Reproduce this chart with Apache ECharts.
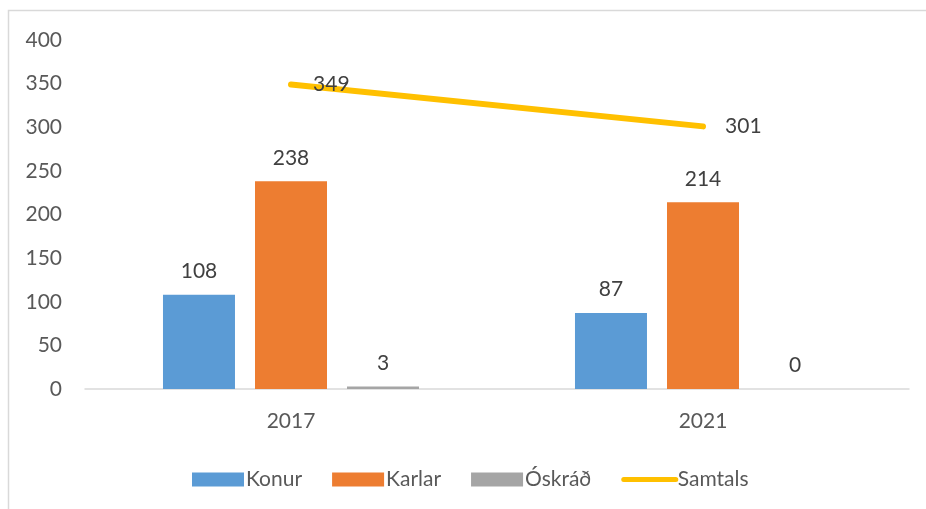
<!DOCTYPE html>
<html>
<head>
<meta charset="utf-8">
<script src="https://cdn.jsdelivr.net/npm/echarts@6/dist/echarts.min.js"></script>
<style>
  html, body { margin: 0; padding: 0; background: #fff; }
  #chart { width: 926px; height: 509px; }
</style>
</head>
<body>
<div id="chart"></div>
<script>
const years = ['2017', '2021']
const konur = [108, 87]
const karlar = [238, 214]
const oskrad = [3, 0]
const samtals = [349, 301]

const font = 'Lato, "Open Sans", sans-serif'
const chart = echarts.init(document.getElementById('chart'))

const barLabel = {
  show: true,
  position: 'top',
  distance: 13,
  color: '#404040',
  fontSize: 21,
  fontFamily: font,
}

chart.setOption({
  animation: false,
  backgroundColor: '#fff',
  textStyle: { fontFamily: font },
  graphic: [{
    type: 'rect',
    silent: true,
    shape: { x: 8.5, y: 10.5, width: 1000, height: 1000 },
    style: { fill: 'none', stroke: '#D9D9D9', lineWidth: 1.5 },
  }],
  grid: { left: 85, right: 17, top: 40, bottom: 120 },
  legend: {
    left: 187,
    top: 464,
    itemWidth: 52,
    itemHeight: 14,
    itemGap: 30,
    textStyle: { color: '#595959', fontSize: 21, fontFamily: font, padding: [0, 0, 0, -3] },
    data: [
      { name: 'Konur', icon: 'rect' },
      { name: 'Karlar', icon: 'rect' },
      { name: 'Óskráð', icon: 'rect' },
      { name: 'Samtals', itemStyle: { opacity: 0 }, lineStyle: { width: 5, cap: 'round' } },
    ],
  },
  xAxis: {
    type: 'category',
    data: years,
    axisLine: { lineStyle: { color: '#D9D9D9', width: 1.5 } },
    axisTick: { show: false },
    axisLabel: { color: '#595959', fontSize: 21, margin: 22, fontFamily: font },
  },
  yAxis: {
    type: 'value',
    min: 0,
    max: 400,
    interval: 50,
    splitLine: { show: false },
    axisLine: { show: false },
    axisTick: { show: false },
    axisLabel: { color: '#595959', fontSize: 21, margin: 23, fontFamily: font },
  },
  series: [
    {
      name: 'Konur', type: 'bar', data: konur, barWidth: 72, barGap: '27.8%',
      itemStyle: { color: '#5B9BD5' }, label: barLabel,
    },
    {
      name: 'Karlar', type: 'bar', data: karlar, barWidth: 72, barGap: '27.8%',
      itemStyle: { color: '#ED7D31' }, label: barLabel,
    },
    {
      name: 'Óskráð', type: 'bar', data: oskrad, barWidth: 72, barGap: '27.8%',
      itemStyle: { color: '#A5A5A5' }, label: barLabel,
    },
    {
      name: 'Samtals', type: 'line', data: samtals,
      showSymbol: true, symbol: 'circle', symbolSize: 0.1,
      lineStyle: { color: '#FFC000', width: 6, cap: 'round' },
      itemStyle: { color: '#FFC000' },
      label: {
        show: true, position: 'right', distance: 22,
        color: '#404040', fontSize: 21, fontFamily: font,
      },
      z: 5,
    },
  ],
})
</script>
</body>
</html>
